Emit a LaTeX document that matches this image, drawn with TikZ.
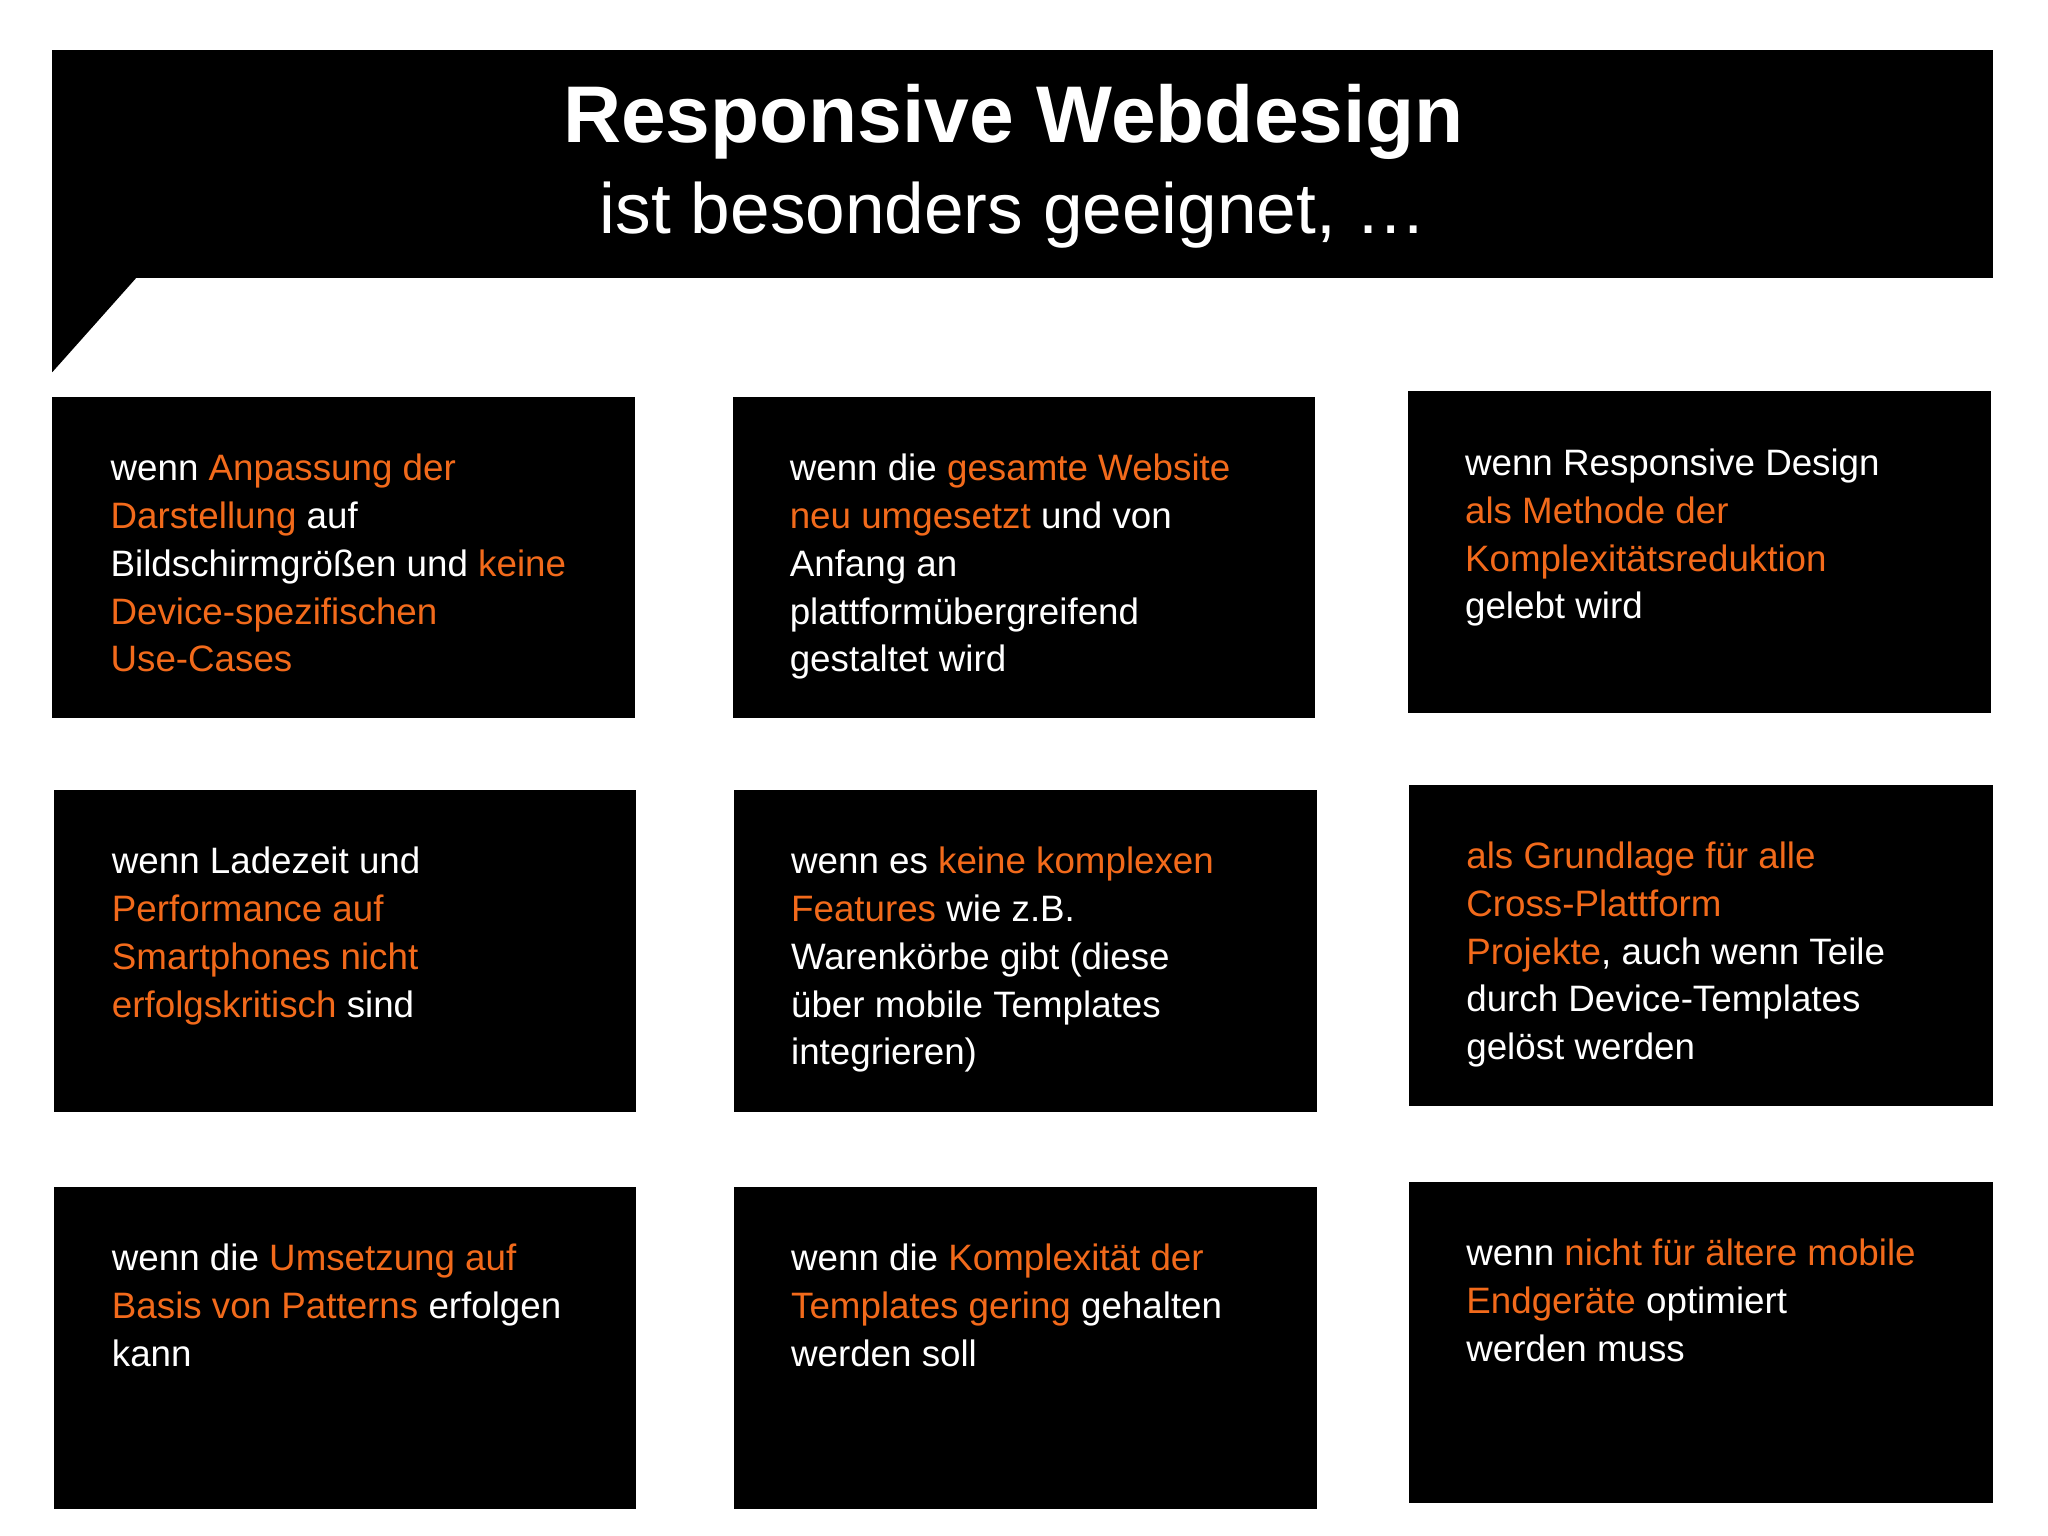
\documentclass[tikz,border=0pt]{standalone}
\usepackage{fontspec}
\setmainfont{Liberation Sans}
\definecolor{orng}{HTML}{F26A1B}
\newcommand{\Or}[1]{{\color{orng}#1}}
\begin{document}
\begin{tikzpicture}[x=0.01cm,y=-0.01cm,
  card/.style={fill=black,draw=none},
  txt/.style={anchor=north west,inner sep=0pt,text=white,align=left,font=\fontsize{8}{10.4}\selectfont}]
\useasboundingbox (0,0) rectangle (1568,1176);
\fill[white] (0,0) rectangle (1568,1176);
\fill[card] (40,38) rectangle (1526,213);
\fill[card] (40,212) -- (105,212) -- (40,285) -- cycle;
\node[text=white,font=\bfseries\fontsize{17.5}{20}\selectfont] (t1) at (776,93) {Responsive Webdesign};
\node[text=white,font=\fontsize{15.5}{18}\selectfont] (t2) at (776,165) {ist besonders geeignet, \dots};
% row 1
\fill[card] (40,304) rectangle (486,550);
\node[txt] (a1) at (84,347) {wenn \Or{Anpassung der}\\\Or{Darstellung} auf\\Bildschirmgrößen und \Or{keine}\\\Or{Device-spezifischen}\\\Or{Use-Cases}};
\fill[card] (561,304) rectangle (1007,550);
\node[txt] (a2) at (604,347) {wenn die \Or{gesamte Website}\\\Or{neu umgesetzt} und von\\Anfang an\\plattformübergreifend\\gestaltet wird};
\fill[card] (1078,299) rectangle (1524,546);
\node[txt] (a3) at (1121,343) {wenn Responsive Design\\\Or{als Methode der}\\\Or{Komplexitätsreduktion}\\gelebt wird};
% row 2
\fill[card] (41,605) rectangle (487,851);
\node[txt] (b1) at (85,648) {wenn Ladezeit und\\\Or{Performance auf}\\\Or{Smartphones nicht}\\\Or{erfolgskritisch} sind};
\fill[card] (562,605) rectangle (1008,851);
\node[txt] (b2) at (605,648) {wenn es \Or{keine komplexen}\\\Or{Features} wie z.B.\\Warenkörbe gibt (diese\\über mobile Templates\\integrieren)};
\fill[card] (1079,601) rectangle (1526,847);
\node[txt] (b3) at (1122,644) {\Or{als Grundlage für alle}\\\Or{Cross-Plattform}\\\Or{Projekte}, auch wenn Teile\\durch Device-Templates\\gelöst werden};
% row 3
\fill[card] (41,909) rectangle (487,1155);
\node[txt] (c1) at (85,952) {wenn die \Or{Umsetzung auf}\\\Or{Basis von Patterns} erfolgen\\kann};
\fill[card] (562,909) rectangle (1008,1155);
\node[txt] (c2) at (605,952) {wenn die \Or{Komplexität der}\\\Or{Templates gering} gehalten\\werden soll};
\fill[card] (1079,905) rectangle (1526,1151);
\node[txt] (c3) at (1122,948) {wenn \Or{nicht für ältere mobile}\\\Or{Endgeräte} optimiert\\werden muss};
\end{tikzpicture}
\end{document}
